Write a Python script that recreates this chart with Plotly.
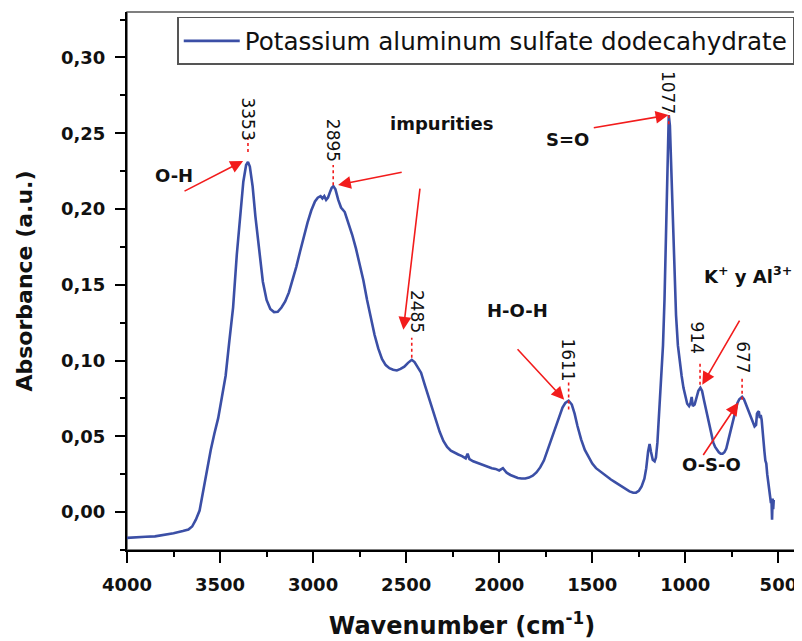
import plotly.graph_objects as go

# ---------------- data ----------------
wavenumber = [4000, 3950, 3900, 3850, 3800, 3750, 3700, 3670, 3650, 3630, 3610, 3590, 3570, 3550,
              3530, 3510, 3490, 3470, 3450, 3430, 3410, 3390, 3375, 3360, 3350, 3340, 3325, 3310,
              3290, 3270, 3250, 3230, 3210, 3190, 3170, 3150, 3130, 3110, 3090, 3070, 3050, 3030,
              3010, 2990, 2975, 2960, 2950, 2940, 2930, 2920, 2910, 2900, 2891, 2880, 2865, 2850,
              2830, 2810, 2790, 2770, 2750, 2730, 2710, 2690, 2670, 2650, 2630, 2610, 2590, 2570,
              2550, 2530, 2510, 2490, 2470, 2455, 2440, 2420, 2400, 2380, 2360, 2340, 2320, 2300,
              2280, 2260, 2240, 2220, 2200, 2180, 2170, 2160, 2140, 2120, 2100, 2080, 2060, 2040,
              2020, 2000, 1980, 1960, 1940, 1920, 1900, 1880, 1860, 1840, 1820, 1800, 1780, 1760,
              1740, 1720, 1700, 1680, 1660, 1645, 1627, 1610, 1595, 1580, 1560, 1540, 1520, 1500,
              1480, 1460, 1440, 1420, 1400, 1380, 1360, 1340, 1320, 1300, 1280, 1265, 1250, 1235,
              1220, 1210, 1200, 1192, 1185, 1175, 1165, 1158, 1150, 1140, 1130, 1120, 1112, 1104,
              1096, 1089, 1083, 1076, 1068, 1060, 1050, 1040, 1030, 1020, 1010, 1000, 990, 980,
              972, 966, 960, 950, 940, 930, 919, 910, 900, 890, 880, 870, 860, 850, 840, 830, 820,
              810, 800, 790, 780, 770, 760, 750, 740, 730, 720, 710, 695, 685, 675, 665, 655, 645,
              635, 628, 620, 615, 610, 605, 600, 595, 590, 585, 580, 575, 570, 565, 560, 555, 550,
              545, 540, 537, 534, 531, 528, 525]
absorbance = [-0.0170, -0.0165, -0.0163, -0.0160, -0.0150, -0.0140, -0.0125, -0.0115, -0.0095, -0.0050,
              0.0010, 0.0150, 0.0290, 0.0410, 0.0520, 0.0620, 0.0760, 0.0900, 0.1130, 0.1350, 0.1700,
              0.2000, 0.2180, 0.2290, 0.2310, 0.2280, 0.2150, 0.1950, 0.1720, 0.1520, 0.1400, 0.1340,
              0.1320, 0.1322, 0.1350, 0.1390, 0.1450, 0.1530, 0.1620, 0.1720, 0.1820, 0.1910, 0.1990,
              0.2050, 0.2075, 0.2085, 0.2070, 0.2085, 0.2060, 0.2075, 0.2110, 0.2140, 0.2150, 0.2130,
              0.2060, 0.2010, 0.1980, 0.1910, 0.1830, 0.1740, 0.1640, 0.1530, 0.1400, 0.1280, 0.1170,
              0.1080, 0.1010, 0.0970, 0.0950, 0.0940, 0.0935, 0.0945, 0.0960, 0.0985, 0.1005, 0.0990,
              0.0960, 0.0920, 0.0840, 0.0760, 0.0680, 0.0600, 0.0530, 0.0470, 0.0430, 0.0405, 0.0390,
              0.0380, 0.0370, 0.0355, 0.0385, 0.0350, 0.0335, 0.0325, 0.0320, 0.0305, 0.0300, 0.0290,
              0.0285, 0.0275, 0.0290, 0.0260, 0.0245, 0.0235, 0.0225, 0.0222, 0.0222, 0.0228, 0.0240,
              0.0262, 0.0295, 0.0340, 0.0410, 0.0480, 0.0560, 0.0630, 0.0690, 0.0720, 0.0735, 0.0710,
              0.0650, 0.0570, 0.0480, 0.0410, 0.0360, 0.0320, 0.0290, 0.0270, 0.0250, 0.0232, 0.0215,
              0.0200, 0.0185, 0.0168, 0.0150, 0.0137, 0.0128, 0.0128, 0.0140, 0.0170, 0.0220, 0.0290,
              0.0400, 0.0450, 0.0400, 0.0345, 0.0335, 0.0360, 0.0460, 0.0650, 0.0850, 0.1100, 0.1400,
              0.1800, 0.2300, 0.2620, 0.2550, 0.2250, 0.1900, 0.1600, 0.1300, 0.1100, 0.0990, 0.0900,
              0.0820, 0.0760, 0.0715, 0.0700, 0.0720, 0.0760, 0.0700, 0.0710, 0.0760, 0.0800, 0.0820,
              0.0800, 0.0740, 0.0680, 0.0620, 0.0560, 0.0500, 0.0460, 0.0430, 0.0410, 0.0395, 0.0385,
              0.0385, 0.0395, 0.0420, 0.0470, 0.0520, 0.0580, 0.0640, 0.0690, 0.0720, 0.0745, 0.0760,
              0.0745, 0.0715, 0.0680, 0.0650, 0.0620, 0.0590, 0.0565, 0.0575, 0.0650, 0.0660, 0.0665,
              0.0620, 0.0640, 0.0610, 0.0520, 0.0450, 0.0400, 0.0340, 0.0320, 0.0250, 0.0200, 0.0150,
              0.0120, 0.0060, 0.0080, -0.0050, 0.0090, 0.0020, 0.0080]

series_name = "Potassium aluminum sulfate dodecahydrate"

x_tick_vals = [4000, 3500, 3000, 2500, 2000, 1500, 1000, 500]
x_tick_text = ["4000", "3500", "3000", "2500", "2000", "1500", "1000", "500"]
y_tick_vals = [0.00, 0.05, 0.10, 0.15, 0.20, 0.25, 0.30]
y_tick_text = ["0,00", "0,05", "0,10", "0,15", "0,20", "0,25", "0,30"]

# peak labels: text, wavenumber of peak marker, label centre, dotted-line top / bottom
peak_labels = ["3353", "2895", "2485", "1611", "1077", "914", "677"]
peak_x = [3350, 2892, 2470, 1627, 1089, 921, 695]
peak_label_x = [3350, 2892, 2443, 1629, 1092, 936, 688]
peak_label_y = [0.2591, 0.2455, 0.1322, 0.1006, 0.2771, 0.1150, 0.1020]
peak_line_top = [0.2474, 0.2290, 0.1151, 0.0855, 0.2640, 0.0990, 0.0887]
peak_line_bot = [0.2376, 0.2157, 0.1019, 0.0677, 0.2560, 0.0840, 0.0742]

# band assignments
band_text = ["O-H", "impurities", "S=O", "H-O-H", "K<sup>+</sup> y Al<sup>3+</sup>", "O-S-O"]
band_x = [3747, 2312, 1634, 1903, 662, 861]
band_y = [0.2224, 0.2567, 0.2462, 0.1329, 0.1566, 0.0314]

# arrows: tail (x, y) -> head (x, y)
arrow_tail_x = [3699, 2516, 2425, 1500, 1909, 704, 909]
arrow_tail_y = [0.2113, 0.2244, 0.2144, 0.2534, 0.1085, 0.1274, 0.0367]
arrow_head_x = [3376, 2866, 2515, 1091, 1651, 909, 715]
arrow_head_y = [0.2317, 0.2159, 0.1204, 0.2620, 0.0742, 0.0841, 0.0723]

# ---------------- figure ----------------
FONT = "DejaVu Sans, Arial, sans-serif"
RED = "#f21c1c"

fig = go.Figure()
fig.add_trace(go.Scatter(
    x=wavenumber, y=absorbance, mode="lines", name=series_name,
    line=dict(color="#3b4fa6", width=2.6),
    showlegend=True,
))

annotations = []
for t, x, y in zip(peak_labels, peak_label_x, peak_label_y):
    annotations.append(dict(x=x, y=y, xref="x", yref="y", text=t, showarrow=False,
                            textangle=90, font=dict(family=FONT, size=17, color="#111")))
for t, x, y in zip(band_text, band_x, band_y):
    annotations.append(dict(x=x, y=y, xref="x", yref="y", text="<b>" + t + "</b>", showarrow=False,
                            font=dict(family=FONT, size=18, color="#111")))
for tx, ty, hx, hy in zip(arrow_tail_x, arrow_tail_y, arrow_head_x, arrow_head_y):
    annotations.append(dict(x=hx, y=hy, ax=tx, ay=ty, xref="x", yref="y", axref="x", ayref="y",
                            text="", showarrow=True, arrowhead=2, arrowsize=1.6, arrowwidth=1.6,
                            arrowcolor=RED, standoff=0, startstandoff=0))

shapes = [dict(type="rect", xref="paper", yref="paper", x0=0, x1=1, y0=0, y1=1,
               line=dict(color="#555", width=1.5), layer="below")]
for x, y0, y1 in zip(peak_x, peak_line_bot, peak_line_top):
    shapes.append(dict(type="line", xref="x", yref="y", x0=x, x1=x, y0=y0, y1=y1,
                       line=dict(color=RED, width=1.6, dash="dot")))

# the page body keeps an 8 px margin, so the figure is 8 px smaller each way
fig.update_layout(
    width=794, height=633,
    margin=dict(l=119, r=5, t=4, b=91, autoexpand=False),
    paper_bgcolor="white", plot_bgcolor="white",
    font=dict(family=FONT, color="#111"),
    showlegend=True,
    legend=dict(x=0.075, y=0.991, xanchor="left", yanchor="top",
                bordercolor="#555", borderwidth=1.5, bgcolor="white",
                font=dict(family=FONT, size=24.6, color="#111"),
                itemwidth=56, tracegroupgap=0),
    annotations=annotations,
    shapes=shapes,
)

fig.update_xaxes(
    range=[4000, 400], tickvals=x_tick_vals, ticktext=x_tick_text, automargin=False,
    showgrid=False, zeroline=False, showline=True, linecolor="black", linewidth=2,
    ticks="outside", ticklen=11, tickwidth=2, tickcolor="black",
    minor=dict(dtick=250, ticks="outside", ticklen=5, tickwidth=2, tickcolor="black", showgrid=False),
    tickfont=dict(family=FONT, size=18, color="#111", weight="bold"),
    title=dict(text="<b>Wavenumber (cm<sup>-1</sup>)</b>", standoff=24,
               font=dict(family=FONT, size=24, color="#111")),
    ticklabelstandoff=6,
)
fig.update_yaxes(
    range=[-0.025, 0.33], tickvals=y_tick_vals, ticktext=y_tick_text, automargin=False,
    showgrid=False, zeroline=False, showline=True, linecolor="black", linewidth=2,
    ticks="outside", ticklen=10, tickwidth=2, tickcolor="black",
    minor=dict(dtick=0.025, tick0=0, ticks="outside", ticklen=5, tickwidth=2, tickcolor="black", showgrid=False),
    tickfont=dict(family=FONT, size=18, color="#111", weight="bold"),
    title=dict(text="<b>Absorbance (a.u.)</b>", standoff=22,
               font=dict(family=FONT, size=22, color="#111")),
    ticklabelstandoff=6,
)

fig.write_html("out.html")
